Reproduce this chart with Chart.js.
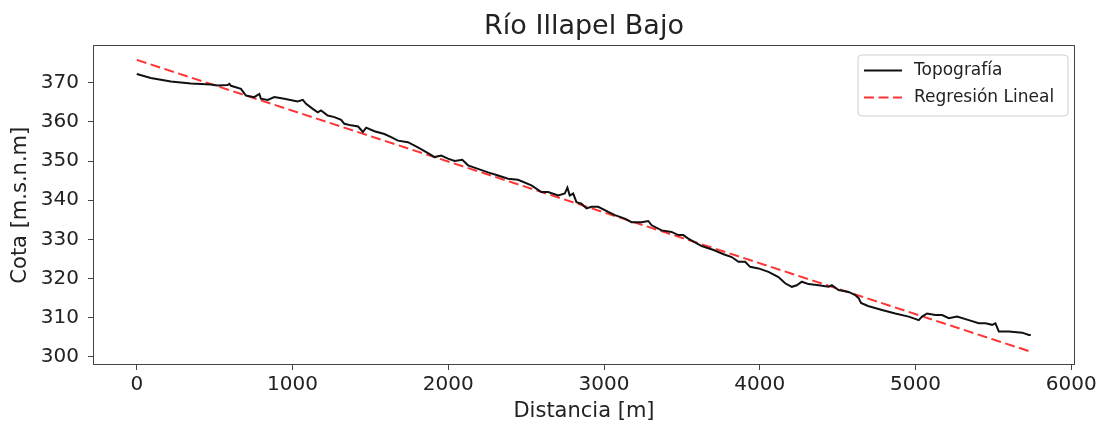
<!DOCTYPE html>
<html>
<head>
<meta charset="utf-8">
<script src="https://cdn.jsdelivr.net/npm/chart.js@4.4.0/dist/chart.umd.min.js"></script>
<style>
html, body { margin: 0; padding: 0; background: #fff; }
#wrap { width: 1100px; height: 424px; }
</style>
</head>
<body>
<div id="wrap"><canvas id="perfilChart" width="1100" height="424"></canvas></div>
<script>
// perfil longitudinal
const distancia = [0, 90, 219, 347, 476, 519, 583, 595, 605, 669, 701, 754, 787, 797, 841, 883, 947, 1033, 1066, 1087,
    1130, 1162, 1183, 1226, 1269, 1312, 1333, 1376, 1421, 1452, 1473, 1526, 1590, 1633, 1677, 1741, 1805, 1870, 1912, 1955,
    1998, 2041, 2090, 2127, 2191, 2255, 2320, 2384, 2448, 2534, 2598, 2641, 2706, 2748, 2765, 2780, 2802, 2823, 2855, 2888,
    2920, 2963, 3027, 3070, 3134, 3177, 3241, 3284, 3306, 3370, 3434, 3477, 3509, 3541, 3627, 3704, 3768, 3820, 3863, 3906,
    3938, 3992, 4056, 4120, 4163, 4206, 4238, 4270, 4313, 4378, 4442, 4463, 4506, 4571, 4613, 4635, 4650, 4695, 4740, 4785,
    4870, 4956, 5021, 5042, 5074, 5128, 5171, 5214, 5267, 5342, 5406, 5449, 5492, 5513, 5535, 5600, 5685, 5728, 5740];
const cotaTopo = [372.2, 371.2, 370.3, 369.8, 369.5, 369.3, 369.4, 369.7, 369.2, 368.4, 366.7, 366.3, 367.1, 365.9, 365.6, 366.3, 365.9, 365.2, 365.6, 364.6,
    363.3, 362.4, 362.9, 361.6, 361.2, 360.5, 359.5, 359.1, 358.8, 357.4, 358.5, 357.6, 356.9, 356.1, 355.2, 354.8, 353.5, 352.0, 351.0, 351.4,
    350.6, 350.0, 350.3, 348.9, 348.0, 347.1, 346.3, 345.5, 345.2, 343.8, 342.1, 342.1, 341.2, 341.7, 343.2, 341.2, 341.7, 339.5, 339.1, 337.9,
    338.3, 338.3, 337.0, 336.2, 335.3, 334.4, 334.4, 334.7, 333.6, 332.3, 331.9, 331.1, 331.1, 330.2, 328.3, 327.3, 326.2, 325.5, 324.3, 324.3,
    323.0, 322.6, 321.7, 320.4, 318.8, 317.9, 318.3, 319.2, 318.6, 318.3, 317.9, 318.3, 317.1, 316.6, 315.8, 315.0, 313.8, 313.0, 312.5, 312.0,
    311.1, 310.3, 309.4, 310.3, 311.1, 310.7, 310.7, 309.9, 310.3, 309.4, 308.6, 308.6, 308.2, 308.6, 306.5, 306.5, 306.2, 305.6, 305.6];

const distRegresion = [0, 5740];
const cotaRegresion = [375.8, 301.35];

const ticksX = [0, 1000, 2000, 3000, 4000, 5000, 6000];
const ticksY = [300, 310, 320, 330, 340, 350, 360, 370];

Chart.defaults.font.family = "'DejaVu Sans', sans-serif";
Chart.defaults.color = "#222";

// marco completo del grafico (estilo matplotlib)
const marco = {
    id: "marco",
    afterDatasetsDraw(chart) {
        const a = chart.chartArea;
        const c = chart.ctx;
        c.save();
        c.strokeStyle = "#444";
        c.lineWidth = 1;
        const l = Math.round(a.left) + 0.5, t = Math.round(a.top) + 0.5;
        const r = Math.round(a.right) - 0.5, b = Math.round(a.bottom) - 0.5;
        c.strokeRect(l, t, r - l, b - t);
        c.restore();
    }
};

// leyenda dentro del area, arriba a la derecha
const leyenda = {
    id: "leyenda",
    afterDraw(chart) {
        const c = chart.ctx;
        const x = 858, y = 55, w = 210, h = 61, rad = 4;
        c.save();
        c.beginPath();
        c.moveTo(x + rad, y);
        c.arcTo(x + w, y, x + w, y + h, rad);
        c.arcTo(x + w, y + h, x, y + h, rad);
        c.arcTo(x, y + h, x, y, rad);
        c.arcTo(x, y, x + w, y, rad);
        c.closePath();
        c.fillStyle = "rgba(255,255,255,0.8)";
        c.fill();
        c.strokeStyle = "#d0d0d0";
        c.lineWidth = 1;
        c.stroke();
        chart.data.datasets.forEach((ds, i) => {
            const yy = y + 15.5 + i * 27;
            c.beginPath();
            c.setLineDash(ds.borderDash || []);
            c.strokeStyle = ds.borderColor;
            c.lineWidth = ds.borderWidth;
            c.moveTo(864, yy);
            c.lineTo(902, yy);
            c.stroke();
            c.setLineDash([]);
            c.fillStyle = "#222";
            c.font = "17px 'DejaVu Sans', sans-serif";
            c.textBaseline = "middle";
            c.fillText(ds.label, 914, yy);
        });
        c.restore();
    }
};

const ctx = document.getElementById("perfilChart").getContext("2d");
const chart = new Chart(ctx, {
    type: "line",
    data: {
        datasets: [{
            label: "Topografía",
            data: distancia.map((d, i) => ({ x: d, y: cotaTopo[i] })),
            borderColor: "#111111",
            borderWidth: 2,
            pointRadius: 0,
            tension: 0,
            fill: false
        }, {
            label: "Regresión Lineal",
            data: distRegresion.map((d, i) => ({ x: d, y: cotaRegresion[i] })),
            borderColor: "rgba(255,0,0,0.8)",
            borderWidth: 2,
            borderDash: [10, 4.5],
            pointRadius: 0,
            tension: 0,
            fill: false
        }]
    },
    options: {
        responsive: false,
        animation: false,
        devicePixelRatio: 1,
        layout: { padding: { left: 0, right: 25, top: 0, bottom: 0 } },
        scales: {
            x: {
                type: "linear",
                min: -281,
                max: 6024,
                afterBuildTicks: s => { s.ticks = ticksX.map(v => ({ value: v })); },
                afterFit: s => { s.height = 59; },
                ticks: { font: { size: 20 }, color: "#222", padding: 3, maxRotation: 0, autoSkip: false,
                    callback: v => String(v) },
                grid: { drawOnChartArea: false, drawTicks: true, tickLength: 5, tickColor: "#444" },
                border: { display: false },
                title: { display: true, text: "Distancia [m]", font: { size: 21 }, color: "#222", padding: { top: 0, bottom: 0 } }
            },
            y: {
                min: 297.95,
                max: 379.5,
                afterBuildTicks: s => { s.ticks = ticksY.map(v => ({ value: v })); },
                afterFit: s => { s.width = 93; },
                ticks: { font: { size: 20 }, color: "#222", padding: 9, autoSkip: false,
                    callback: v => String(v) },
                grid: { drawOnChartArea: false, drawTicks: true, tickLength: 5, tickColor: "#444" },
                border: { display: false },
                title: { display: true, text: "Cota [m.s.n.m]", font: { size: 21 }, color: "#222", padding: { top: 8, bottom: 0 } }
            }
        },
        plugins: {
            legend: { display: false },
            tooltip: { enabled: false },
            title: {
                display: true,
                text: "Río Illapel Bajo",
                fullSize: false,
                font: { size: 27, weight: "normal" },
                color: "#222",
                padding: { top: 11, bottom: 2 }
            }
        }
    },
    plugins: [marco, leyenda]
});
</script>
</body>
</html>
